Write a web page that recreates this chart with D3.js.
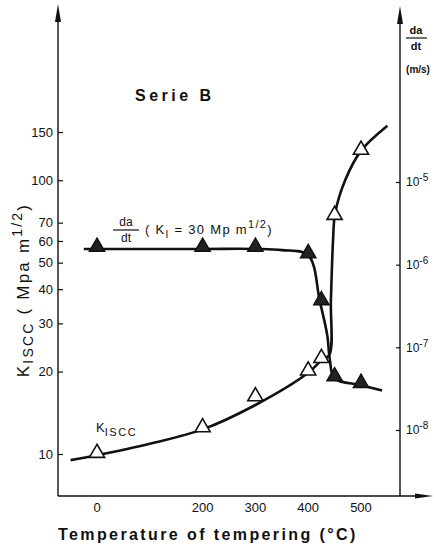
<!DOCTYPE html>
<html>
<head>
<meta charset="utf-8">
<title>Serie B</title>
<script src="https://d3js.org/d3.v7.min.js"></script>
<style>
  body { margin: 0; background: #fff; }
  text { font-family: "Liberation Sans", Arial, sans-serif; fill: #111; }
</style>
</head>
<body>
<div id="chart"></div>
<script>
// temperature ticks
const tempTicks = [0, 200, 300, 400, 500];
const kTicks = [10, 20, 30, 40, 50, 60, 70, 100, 150];
const rateTicks = [1e-5, 1e-6, 1e-7, 1e-8];
const rateTickExp = ["-5", "-6", "-7", "-8"];

// measured points
const kTemp = [0, 200, 300, 400, 425, 450, 500];
const kValue = [10, 12.4, 16.1, 20, 22.2, 74, 128];
const rateTemp = [0, 200, 300, 400, 425, 450, 500];
const rateValue = [1.55e-6, 1.55e-6, 1.55e-6, 1.3e-6, 3.5e-7, 4.2e-8, 3.5e-8];

// hand drawn curves
const kCurveTemp = [-50, 0, 100, 200, 300, 400, 425, 440, 443, 447, 451, 470, 500, 550];
const kCurveValue = [9.5, 9.9, 10.9, 12.3, 15.1, 19.8, 22, 23, 36.5, 60, 75.8, 100, 128, 158];
const rateCurveTemp = [-25, 0, 200, 300, 350, 400, 422, 436, 441, 450, 500, 540];
const rateCurveValue = [1.55e-6, 1.55e-6, 1.55e-6, 1.55e-6, 1.5e-6, 1.3e-6, 3.6e-7, 1.41e-7, 7.1e-8, 4.2e-8, 3.5e-8, 3.0e-8];

const width = 434, height = 548;
const svg = d3.select("#chart").append("svg")
    .attr("width", width)
    .attr("height", height);

const x = d3.scaleLinear().domain([0, 500]).range([97, 361]);
const yK = d3.scaleLog().domain([10, 150]).range([454, 132]);
const yR = d3.scaleLog().domain([1e-8, 1e-5]).range([430, 182]);

const leftX = 58, rightX = 400, baseY = 496;

// axis lines with arrows
svg.append("line").attr("x1", leftX).attr("x2", leftX).attr("y1", baseY).attr("y2", 14)
    .attr("stroke", "#111").attr("stroke-width", 1.4);
svg.append("path").attr("d", `M${leftX},4 L${leftX - 3},22 L${leftX + 3},22 Z`).attr("fill", "#111");
svg.append("line").attr("x1", rightX).attr("x2", rightX).attr("y1", baseY).attr("y2", 16)
    .attr("stroke", "#111").attr("stroke-width", 1.4);
svg.append("path").attr("d", `M${rightX},6 L${rightX - 3},24 L${rightX + 3},24 Z`).attr("fill", "#111");
svg.append("line").attr("x1", leftX).attr("x2", 420).attr("y1", baseY).attr("y2", baseY)
    .attr("stroke", "#111").attr("stroke-width", 1.4);
svg.append("path").attr("d", `M433,${baseY} L415,${baseY - 2.5} L415,${baseY + 2.5} Z`).attr("fill", "#111");

// left axis
const gL = svg.append("g").attr("transform", `translate(${leftX},0)`)
    .call(d3.axisLeft(yK).tickValues(kTicks).tickFormat(d3.format("d")).tickSize(-5).tickPadding(5));
gL.select(".domain").remove();
gL.selectAll("line").attr("stroke", "#111").attr("stroke-width", 1.2);
gL.selectAll("text").style("font-size", "13px").attr("fill", "#222");

// right axis
const gR = svg.append("g").attr("transform", `translate(${rightX},0)`)
    .call(d3.axisRight(yR).tickValues(rateTicks).tickFormat("").tickSize(-4).tickPadding(5));
gR.select(".domain").remove();
gR.selectAll("line").attr("stroke", "#111").attr("stroke-width", 1.2);
gR.selectAll(".tick text").each(function(d, i) {
  const t = d3.select(this).style("font-size", "12px").attr("fill", "#222").attr("x", 6);
  t.append("tspan").text("10");
  t.append("tspan").attr("dy", -5).style("font-size", "10px").text(rateTickExp[i]);
});

// bottom tick labels
svg.append("g").selectAll("text").data(tempTicks).join("text")
    .attr("x", d => x(d)).attr("y", 512)
    .attr("text-anchor", "middle")
    .style("font-size", "13px").attr("fill", "#222")
    .text(d => d);

// curves
const lineK = d3.line().x(d => x(d[0])).y(d => yK(d[1])).curve(d3.curveCatmullRom.alpha(0.5));
const lineR = d3.line().x(d => x(d[0])).y(d => yR(d[1])).curve(d3.curveCatmullRom.alpha(0.5));

svg.append("path")
    .datum(rateCurveTemp.map((t, i) => [t, rateCurveValue[i]]))
    .attr("d", lineR).attr("fill", "none").attr("stroke", "#111").attr("stroke-width", 2.6);
svg.append("path")
    .datum(kCurveTemp.map((t, i) => [t, kCurveValue[i]]))
    .attr("d", lineK).attr("fill", "none").attr("stroke", "#111").attr("stroke-width", 2.6);

// markers
const tri = d3.symbol().type(d3.symbolTriangle).size(100);
svg.append("g").selectAll("path").data(rateTemp.map((t, i) => [t, rateValue[i]])).join("path")
    .attr("d", tri)
    .attr("transform", d => `translate(${x(d[0])},${yR(d[1]) - 2})`)
    .attr("fill", "#222").attr("stroke", "#111").attr("stroke-width", 1.5);
svg.append("g").selectAll("path").data(kTemp.map((t, i) => [t, kValue[i]])).join("path")
    .attr("d", tri)
    .attr("transform", d => `translate(${x(d[0])},${yK(d[1]) - 1})`)
    .attr("fill", "#fff").attr("stroke", "#111").attr("stroke-width", 1.6);

// texts
svg.append("text").attr("x", 135).attr("y", 101)
    .style("font-size", "16px").style("font-weight", "bold").style("letter-spacing", "3.5px")
    .text("Serie B");

svg.append("text").attr("x", 58).attr("y", 540)
    .style("font-size", "16px").style("font-weight", "bold").style("letter-spacing", "2.4px")
    .text("Temperature of tempering (\u00b0C)");

// y label left
const yl = svg.append("text").attr("transform", "translate(29,290) rotate(-90)")
    .attr("text-anchor", "middle").style("font-size", "17px").style("letter-spacing", "2.2px");
yl.append("tspan").text("K");
yl.append("tspan").attr("dy", 4).style("font-size", "14px").text("ISCC");
yl.append("tspan").attr("dy", -4).text(" ( Mpa m");
yl.append("tspan").attr("dy", -7).style("font-size", "14px").text("1/2");
yl.append("tspan").attr("dy", 7).text(")");

// right axis label
svg.append("text").attr("x", 416).attr("y", 34).attr("text-anchor", "middle")
    .style("font-size", "11px").style("font-weight", "bold").text("da");
svg.append("line").attr("x1", 406).attr("x2", 427).attr("y1", 38).attr("y2", 38)
    .attr("stroke", "#111").attr("stroke-width", 1.2);
svg.append("text").attr("x", 416).attr("y", 50).attr("text-anchor", "middle")
    .style("font-size", "11px").style("font-weight", "bold").text("dt");
svg.append("text").attr("x", 418).attr("y", 73).attr("text-anchor", "middle")
    .style("font-size", "10px").style("font-weight", "bold").text("(m/s)");

// da/dt annotation
svg.append("text").attr("x", 126).attr("y", 226).attr("text-anchor", "middle")
    .style("font-size", "12px").text("da");
svg.append("line").attr("x1", 113).attr("x2", 139).attr("y1", 230).attr("y2", 230)
    .attr("stroke", "#111").attr("stroke-width", 1.2);
svg.append("text").attr("x", 126).attr("y", 242).attr("text-anchor", "middle")
    .style("font-size", "12px").text("dt");
const ann = svg.append("text").attr("x", 145).attr("y", 234)
    .style("font-size", "13px").style("letter-spacing", "1.3px");
ann.append("tspan").text("( K");
ann.append("tspan").attr("dy", 4).style("font-size", "10px").text("I");
ann.append("tspan").attr("dy", -4).text(" = 30 Mp  m");
ann.append("tspan").attr("dy", -6).style("font-size", "11px").text("1/2");
ann.append("tspan").attr("dy", 6).text(")");

// K_ISCC label
const kl = svg.append("text").attr("x", 96).attr("y", 432).style("font-size", "13px");
kl.append("tspan").text("K");
kl.append("tspan").attr("dy", 4).style("font-size", "11px").style("letter-spacing", "1.6px").text("ISCC");
</script>
</body>
</html>
